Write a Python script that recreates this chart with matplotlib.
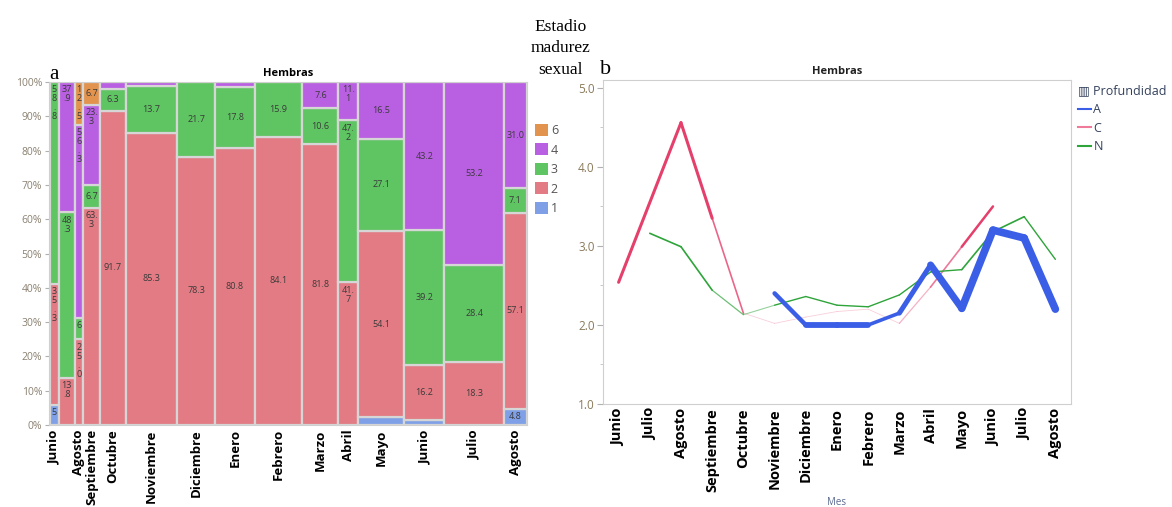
import numpy as np
import matplotlib.pyplot as plt
import matplotlib.colors as mc
from matplotlib.patches import Patch
from matplotlib.lines import Line2D
from matplotlib.collections import LineCollection

plt.rcParams['font.family'] = ['Open Sans', 'DejaVu Sans']

# ---- datos panel a: numero de hembras por estadio de madurez y mes ----
meses = ['Junio', 'Julio', 'Agosto', 'Septiembre', 'Octubre', 'Noviembre', 'Diciembre',
         'Enero', 'Febrero', 'Marzo', 'Abril', 'Mayo', 'Junio', 'Julio', 'Agosto']
etiquetas_a = ['Junio', '', 'Agosto', 'Septiembre', 'Octubre', 'Noviembre', 'Diciembre',
               'Enero', 'Febrero', 'Marzo', 'Abril', 'Mayo', 'Junio', 'Julio', 'Agosto']
est1 = [1, 0, 0, 0, 0, 0, 0, 0, 0, 0, 0, 2, 1, 0, 2]
est2 = [6, 4, 4, 19, 44, 81, 54, 59, 74, 54, 15, 46, 12, 20, 24]
est3 = [10, 14, 1, 2, 3, 13, 15, 13, 14, 7, 17, 23, 29, 31, 3]
est4 = [0, 11, 9, 7, 1, 1, 0, 1, 0, 5, 4, 14, 32, 58, 13]
est6 = [0, 0, 2, 2, 0, 0, 0, 0, 0, 0, 0, 0, 0, 0, 0]

estadios = ['1', '2', '3', '4', '6']
colores = {'1': '#7f9fe6', '2': '#e27b83', '3': '#5fc462', '4': '#b95fe2', '6': '#e2934e'}

# ---- datos panel b: estadio medio por profundidad ----
nan = np.nan
prof_A = [nan, nan, nan, nan, nan, 2.40, 2.00, 2.00, 2.00, 2.15, 2.76, 2.21, 3.20, 3.10, 2.20]
prof_C = [2.54, nan, 4.56, 3.35, 2.15, 2.02, 2.10, 2.17, 2.20, 2.02, 2.48, 2.99, 3.50, nan, nan]
prof_N = [nan, 3.16, 2.99, 2.44, 2.13, 2.25, 2.36, 2.25, 2.23, 2.38, 2.67, 2.70, 3.18, 3.37, 2.83]

fig = plt.figure(figsize=(11.72, 5.07), dpi=100)

# ================= panel a (mosaico) =================
ax = fig.add_axes([0.0418, 0.1617, 0.408, 0.6765])
tabla = np.array([est1, est2, est3, est4, est6], dtype=float)
n = tabla.sum(axis=0)
pct = tabla / n * 100
lefts = np.concatenate([[0], np.cumsum(n)[:-1]])
px_pct = 0.6765 * 507 / 100  # pixeles por punto porcentual

for j in range(len(meses)):
    base = 0.0
    chars = max(1, int(n[j] / 10))
    for i, est in enumerate(estadios):
        h = pct[i, j]
        if h <= 0:
            continue
        rect = ax.bar(lefts[j], h, width=n[j], bottom=base, align='edge',
                      color=colores[est], edgecolor='#d6d6d6', linewidth=1.6)[0]
        if h >= 4.5:
            s = f'{h + 1e-9:.1f}'
            if len(s) > chars:
                partes = [s[k:k + chars] for k in range(0, len(s), chars)]
                caben = max(1, int((h * px_pct - 3) / 9.5))
                s = '\n'.join(partes[:caben])
                t = ax.text(lefts[j] + n[j] / 2, base + h - 1.0, s, ha='center', va='top',
                            fontsize=6.5, color='#3a3a3a', linespacing=1.0)
            else:
                t = ax.text(lefts[j] + n[j] / 2, base + h / 2, s, ha='center', va='center',
                            fontsize=6.5, color='#3a3a3a')
            t.set_clip_path(rect)
        base += h

ax.set_xlim(-1, n.sum() + 1)
ax.set_ylim(0, 100)
ax.set_yticks(np.arange(0, 101, 10))
ax.set_yticklabels([f'{v}%' for v in range(0, 101, 10)], fontsize=7.5, color='#8a8070')
ax.set_xticks(lefts + n / 2)
ax.set_xticklabels(etiquetas_a, rotation=90, fontsize=9.5, fontweight='bold')
ax.tick_params(axis='x', length=0, pad=3)
ax.tick_params(axis='y', length=3, color='#b0b0b0', pad=2)
for sp in ax.spines.values():
    sp.set_color('#d0d0d0')
ax.set_title('Hembras', fontsize=8, fontweight='bold', pad=4)

handles = [Patch(facecolor=colores[e], edgecolor='none') for e in ['6', '4', '3', '2', '1']]
ax.legend(handles, ['6', '4', '3', '2', '1'], loc='upper left', bbox_to_anchor=(1.0, 0.9),
          frameon=False, handlelength=1.1, handleheight=1.1, handletextpad=0.2,
          labelspacing=0.5, fontsize=9, labelcolor='#555555', borderaxespad=0.2)

fig.text(0.042, 0.845, 'a', family='Liberation Serif', fontsize=15)
fig.text(0.478, 0.905, 'Estadio\nmadurez\nsexual', family='Liberation Serif', fontsize=12.5,
         ha='center', va='center', linespacing=1.45)
fig.text(0.512, 0.855, 'b', family='Liberation Serif', fontsize=16)

# ================= panel b (lineas) =================
bx = fig.add_axes([0.5145, 0.2032, 0.3993, 0.639])
x = np.arange(len(meses))


def linea(valores, color, anchos, alfas):
    v = np.array(valores)
    ok = ~np.isnan(v)
    pts = np.column_stack([x[ok], v[ok]])
    segs = [pts[k:k + 2] for k in range(len(pts) - 1)]
    cols = [mc.to_rgba(color, a) for a in alfas]
    lc = LineCollection(segs, colors=cols, linewidths=anchos, capstyle='round', joinstyle='round')
    bx.add_collection(lc)


linea(prof_C, '#e5406c', [2.2, 2.2, 1.2, 0.6, 0.6, 0.6, 0.6, 0.6, 0.9, 1.2, 1.8],
      [1, 1, 0.8, 0.25, 0.25, 0.25, 0.25, 0.25, 0.4, 0.7, 1])
linea(prof_N, '#2ea43a', [1.2, 1.2, 0.9, 0.8, 1.0, 1.0, 1.0, 1.0, 1.0, 1.0, 1.2, 1.2, 1.0],
      [1, 1, 0.7, 0.5, 1, 1, 1, 1, 1, 1, 1, 1, 1])
linea(prof_A, '#3b5ee6', [3.2, 4.2, 4.2, 2.6, 3.6, 5.0, 5.5, 5.5, 5.5],
      [1, 1, 1, 1, 1, 1, 1, 1, 1])

bx.set_xlim(-0.5, 14.5)
bx.set_ylim(1.0, 5.1)
bx.set_yticks([1.0, 2.0, 3.0, 4.0, 5.0])
bx.set_yticklabels(['1.0', '2.0', '3.0', '4.0', '5.0'], fontsize=8.5, color='#8a7a5a')
bx.set_yticks([1.5, 2.5, 3.5, 4.5], minor=True)
bx.tick_params(axis='y', which='major', length=4, color='#b0b0b0', pad=2)
bx.tick_params(axis='y', which='minor', length=2, color='#c0c0c0')
bx.set_xticks(x)
bx.set_xticklabels(meses, rotation=90, fontsize=10.5, fontweight='bold')
bx.tick_params(axis='x', length=0, pad=3)
for sp in bx.spines.values():
    sp.set_color('#cfcfcf')
bx.set_title('Hembras', fontsize=8, fontweight='bold', pad=4, color='#222222')
bx.set_xlabel('Mes', fontsize=7, color='#5a6a90', va='center')
bx.xaxis.set_label_coords(0.5, -0.305)

hl = [Line2D([], [], color='#3b5ee6', lw=1.5), Line2D([], [], color='#f07a9a', lw=1.5),
      Line2D([], [], color='#2ea43a', lw=1.5)]
leg = bx.legend(hl, ['A', 'C', 'N'], title='\u25a5 Profundidad', loc='upper left',
                bbox_to_anchor=(1.0, 1.01), frameon=False, handlelength=1.0,
                handletextpad=0.2, labelspacing=0.45, fontsize=9, title_fontsize=9,
                labelcolor='#33415c', alignment='left', borderaxespad=0.2)
leg.get_title().set_color('#33415c')

fig.savefig('out.png', dpi=100)
